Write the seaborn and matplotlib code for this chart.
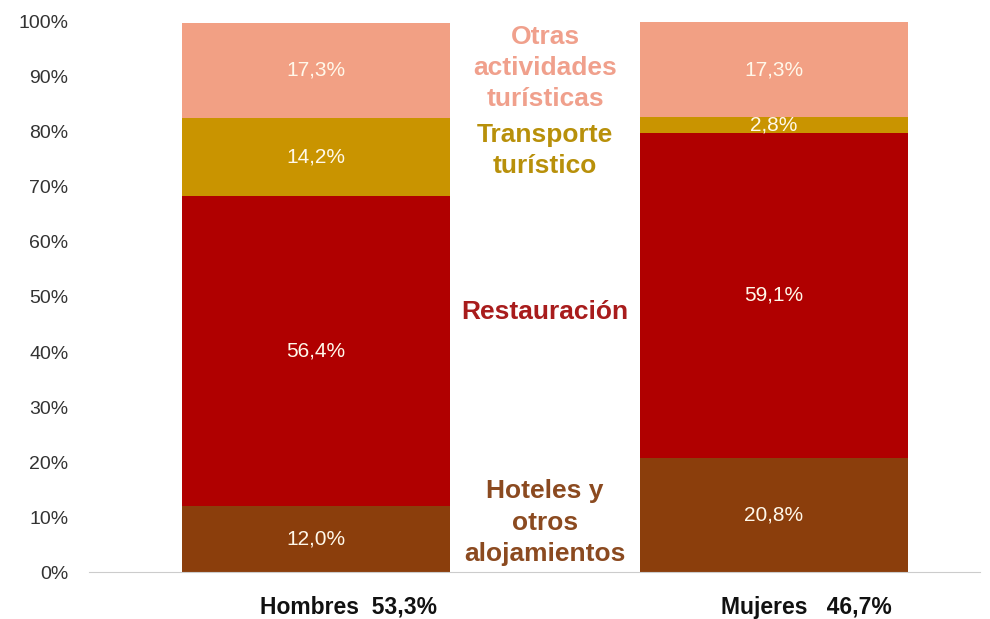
import numpy as np
import pandas as pd
import matplotlib
matplotlib.use("Agg")
import matplotlib.pyplot as plt
import matplotlib.transforms as mtransforms
import seaborn as sns

groups = ["Hombres", "Mujeres"]
group_labels = ["Hombres  53,3%", "Mujeres   46,7%"]
segments = ["Hoteles y\notros\nalojamientos", "Restauración", "Transporte\nturístico",
            "Otras\nactividades\nturísticas"]
hombres = [12.0, 56.4, 14.2, 17.3]
mujeres = [20.8, 59.1, 2.8, 17.3]
seg_colors = ["#8b3e0c", "#b00000", "#c99400", "#f2a084"]
name_colors = ["#8b4a20", "#a81c1c", "#b8900a", "#f0a08c"]
name_y = [9.0, 47.3, 76.7, 91.6]

sns.set_theme(style="white")
plt.rcParams["font.family"] = ["Liberation Sans", "DejaVu Sans"]

df = pd.DataFrame({"grupo": groups * len(segments),
                   "segmento": np.repeat(segments, 2),
                   "valor": [v for pair in zip(hombres, mujeres) for v in pair]})
df["acum"] = df.groupby("grupo")["valor"].cumsum()
df["base"] = df["acum"] - df["valor"]

fig = plt.figure(figsize=(9.9, 6.19), dpi=100)
ax = fig.add_axes([0.09, 0.0759, 0.90, 0.8886])

# draw from the top segment down so each cumulative bar covers the next
for seg, col in reversed(list(zip(segments, seg_colors))):
    sub = df[df["segmento"] == seg]
    sns.barplot(data=sub, x="grupo", y="acum", color=col, width=0.585,
                saturation=1, ax=ax, order=groups, linewidth=0, edgecolor="none")

for _, r in df.iterrows():
    xi = groups.index(r["grupo"])
    yc = r["base"] + r["valor"] / 2
    ax.text(xi, yc, f"{r['valor']:.1f}%".replace(".", ","), ha="center", va="center",
            color="#fff8ea", fontsize=15)

for name, col, yy in zip(segments, name_colors, name_y):
    ax.text(0.5, yy, name, ha="center", va="center", color=col, fontsize=19,
            fontweight="bold", linespacing=1.37)

ax.set_xlim(-0.496, 1.45)
ax.set_ylim(0, 100)
ax.set_yticks(range(0, 101, 10))
ax.set_yticklabels([f"{t}%" for t in range(0, 101, 10)], fontsize=14, color="#333333")
ax.tick_params(axis="y", length=0, pad=15)
ax.set_xticks(range(len(groups)))
ax.set_xticklabels(group_labels, fontsize=16.5, fontweight="bold", color="#111111")
ax.tick_params(axis="x", length=0, pad=17)
shift = mtransforms.ScaledTranslation(32 / 100, 0, fig.dpi_scale_trans)
for lab in ax.get_xticklabels():
    lab.set_transform(lab.get_transform() + shift)
ax.set_xlabel("")
ax.set_ylabel("")
for s in ["top", "right", "left"]:
    ax.spines[s].set_visible(False)
ax.spines["bottom"].set_color("#cccccc")
ax.spines["bottom"].set_linewidth(0.8)

fig.savefig("out.png", dpi=100)
